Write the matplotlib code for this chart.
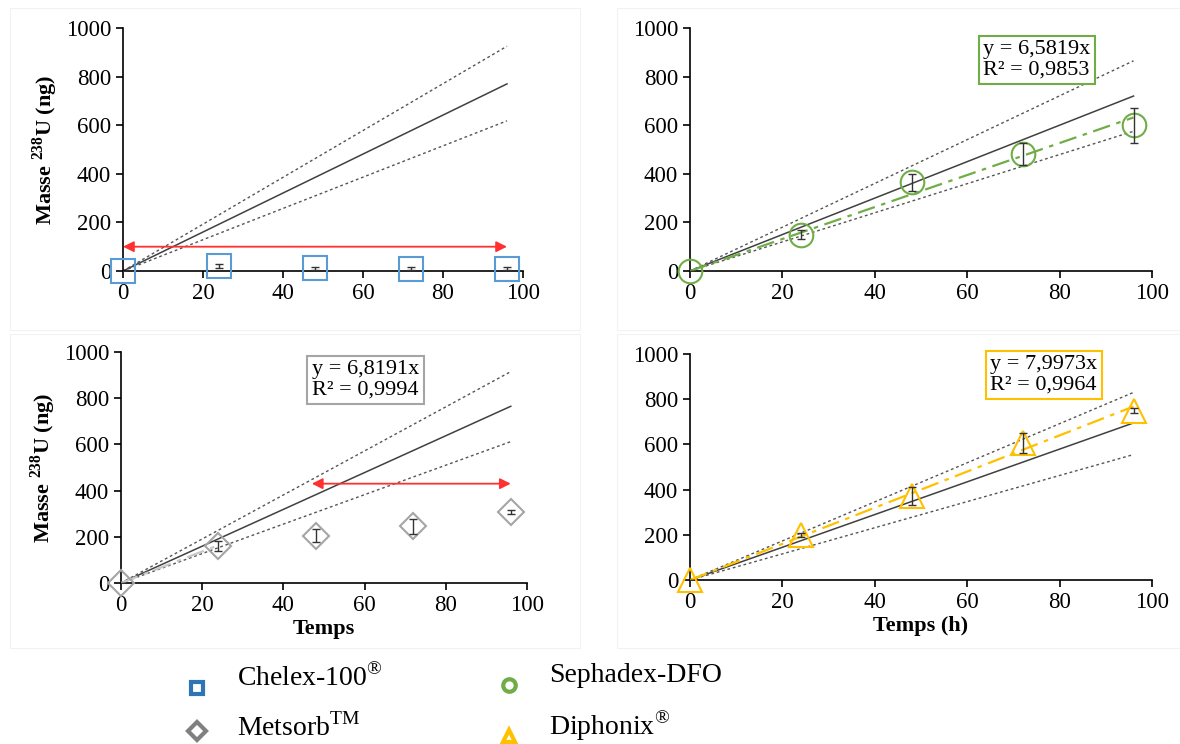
import numpy as np
import matplotlib
matplotlib.use("Agg")
import matplotlib.pyplot as plt
from matplotlib.lines import Line2D
from matplotlib.patches import Rectangle

plt.rcParams['font.family'] = ['Liberation Serif', 'DejaVu Serif']
plt.rcParams['mathtext.fontset'] = 'custom'
plt.rcParams['mathtext.rm'] = 'Liberation Serif'
plt.rcParams['mathtext.bf'] = 'Liberation Serif:bold'

# data
temps = [0, 24, 48, 72, 96]

chelex_y = [0, 20, 12, 10, 10]
chelex_err = [0, 8, 6, 6, 6]
sephadex_y = [0, 150, 365, 480, 600]
sephadex_err = [0, 20, 35, 45, 72]
metsorb_y = [0, 160, 205, 245, 308]
metsorb_err = [0, 20, 28, 32, 10]
diphonix_y = [0, 200, 370, 605, 750]
diphonix_err = [0, 10, 40, 45, 10]

# reference lines (value reached at t = 96 h): solid, upper dotted, lower dotted
chelex_ref = [770, 925, 618]
sephadex_ref = [720, 865, 575]
metsorb_ref = [765, 915, 612]
diphonix_ref = [695, 830, 555]

# trend lines: slope, last x
sephadex_fit = [6.5819, 96]
metsorb_fit = [6.8191, 24]
diphonix_fit = [7.9973, 96]

blue = '#5B9BD5'
green = '#70AD47'
grey = '#A5A5A5'
yellow = '#FFC000'

W, H = 1180, 744
fig = plt.figure(figsize=(11.8, 7.44), dpi=100)

def fx(px):
    return px / W

def fy(py):
    return 1 - py / H

# faint panel frames
for (x0, y0, x1, y1) in [(10, 8, 580, 330), (617, 8, 1180, 330),
                         (10, 334, 580, 648), (617, 334, 1180, 648)]:
    fig.add_artist(Rectangle((fx(x0), fy(y1)), fx(x1 - x0), (y1 - y0) / H,
                             transform=fig.transFigure, fill=False,
                             edgecolor='#f2f2f2', lw=0.8))

def make_ax(x0, x1, y0, y1):
    ax = fig.add_axes([fx(x0), fy(y0), fx(x1 - x0), (y0 - y1) / H])
    ax.set_xlim(0, 100)
    ax.set_ylim(0, 1000)
    ax.set_xticks([0, 20, 40, 60, 80, 100])
    ax.set_yticks([0, 200, 400, 600, 800, 1000])
    for s in ['top', 'right']:
        ax.spines[s].set_visible(False)
    for s in ['left', 'bottom']:
        ax.spines[s].set_linewidth(1.2)
    ax.tick_params(labelsize=16.5, length=5, width=1.2, direction='out')
    ax.patch.set_alpha(0)
    return ax

def draw(ax, y, err, ref, color, marker, ms):
    ax.plot([0, 96], [0, ref[0]], color='#404040', lw=1.1, zorder=2)
    ax.plot([0, 96], [0, ref[1]], color='#555555', lw=1.0, ls=(0, (2, 2)), zorder=2)
    ax.plot([0, 96], [0, ref[2]], color='#555555', lw=1.0, ls=(0, (2, 2)), zorder=2)
    ax.errorbar(temps, y, yerr=err, fmt='none', ecolor='#333333', elinewidth=1.0,
                capsize=3, capthick=1.0, zorder=5)
    ax.plot(temps, y, ls='none', marker=marker, ms=ms, mfc='none', mec=color,
            mew=1.5, clip_on=False, zorder=4)

def trend(ax, fit, color):
    ax.plot([0, fit[1]], [0, fit[0] * fit[1]], color=color, lw=1.6,
            dashes=(8, 3, 2, 3), zorder=3)

def eqbox(ax, x, y, fit, r2, color):
    txt = 'y = {}x\nR² = {}'.format(str(fit[0]).replace('.', ','), r2)
    ax.text(x, y, txt, fontsize=16, va='top', ha='left', linespacing=1.1,
            bbox=dict(boxstyle='square,pad=0.2', fc='white', ec=color, lw=1.5),
            zorder=6)

def red_arrow(ax, x0, x1, y):
    ax.annotate('', xy=(x1, y), xytext=(x0, y),
                arrowprops=dict(arrowstyle='<|-|>', color='#ff3030', lw=1.3,
                                mutation_scale=16, shrinkA=0, shrinkB=0),
                zorder=6)

ylab = r'Masse $^{\mathbf{238}}$U (ng)'

# top left: Chelex-100
ax1 = make_ax(123, 523, 271, 28)
draw(ax1, chelex_y, chelex_err, chelex_ref, blue, 's', 17)
red_arrow(ax1, 0, 96, 100)
ax1.set_ylabel(ylab, fontsize=16, fontweight='bold', labelpad=4)

# top right: Sephadex-DFO
ax2 = make_ax(690, 1152, 271, 28)
draw(ax2, sephadex_y, sephadex_err, sephadex_ref, green, 'o', 17)
trend(ax2, sephadex_fit, green)
eqbox(ax2, 63.5, 950, sephadex_fit, '0,9853', green)

# bottom left: Metsorb
ax3 = make_ax(121, 527, 583, 352)
draw(ax3, metsorb_y, metsorb_err, metsorb_ref, grey, 'D', 13)
trend(ax3, metsorb_fit, '#C8C8C8')
red_arrow(ax3, 47, 96, 430)
eqbox(ax3, 47, 965, metsorb_fit, '0,9994', grey)
ax3.set_ylabel(ylab, fontsize=16, fontweight='bold', labelpad=4)
ax3.set_xlabel('Temps', fontsize=16, fontweight='bold', labelpad=2)

# bottom right: Diphonix
ax4 = make_ax(690, 1152, 580, 354)
draw(ax4, diphonix_y, diphonix_err, diphonix_ref, yellow, '^', 17)
trend(ax4, diphonix_fit, yellow)
eqbox(ax4, 65, 995, diphonix_fit, '0,9964', yellow)
ax4.set_xlabel('Temps (h)', fontsize=16, fontweight='bold', labelpad=2)

# legend below the panels
legend_items = [
    (197, 688, 's', '#2E75B6', 'Chelex-100$^{\\mathrm{®}}$', 678),
    (197, 731, 'D', '#808080', 'Metsorb$^{\\mathrm{TM}}$', 727),
    (509, 685, 'o', green, 'Sephadex-DFO', 676),
    (509, 736, '^', yellow, 'Diphonix$^{\\mathrm{®}}$', 726),
]
for (mx, my, mk, col, lab, ty) in legend_items:
    fig.add_artist(Line2D([fx(mx)], [fy(my)], transform=fig.transFigure,
                          marker=mk, ms=9, mfc='none', mec=col, mew=3, ls='none'))
    fig.text(fx(mx + 40), fy(ty), lab, fontsize=20, va='center', ha='left')

fig.savefig('out.png', dpi=100, facecolor='white')
